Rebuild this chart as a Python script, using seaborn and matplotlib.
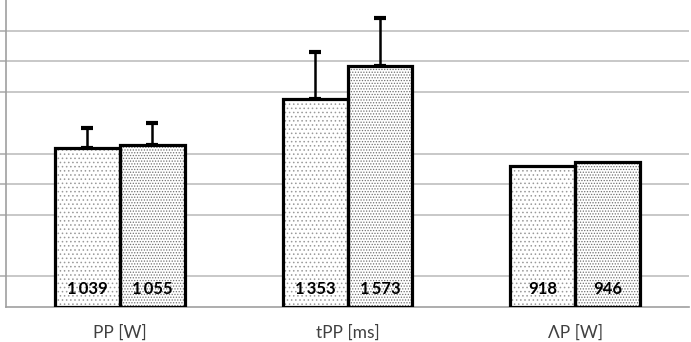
import numpy as np
import pandas as pd
import seaborn as sns
import matplotlib
matplotlib.use("Agg")
import matplotlib.pyplot as plt
from matplotlib.patches import Rectangle

# values
categories = ["PP [W]", "tPP [ms]", "\u039bP [W]"]
series = ["A", "B"]
values_a = [1039, 1353, 918]
values_b = [1055, 1573, 946]
err_a = [130, 305, 0]
err_b = [143, 312, 0]
yticks = [200, 600, 800, 1000, 1400, 1600, 1800]

df = pd.DataFrame({
    "cat": categories * 2,
    "series": [series[0]] * 3 + [series[1]] * 3,
    "value": values_a + values_b,
    "err": err_a + err_b,
})

sns.set_style("white")
plt.rcParams["font.family"] = ["Lato", "DejaVu Sans"]
plt.rcParams["hatch.linewidth"] = 0.6

fig = plt.figure(figsize=(6.91, 3.42), dpi=100)
ax = fig.add_axes([6 / 691, 35 / 342, 683 / 691, 307 / 342])

sns.barplot(data=df, x="cat", y="value", hue="series", order=categories,
            hue_order=series, palette=["white", "white"], width=0.57,
            gap=0, legend=False, ax=ax, zorder=2)

hatches = {series[0]: "....", series[1]: "......"}
hatch_cols = {series[0]: "#9a9a9a", series[1]: "#707070"}

# patches come ordered by hue then category
bars = [p for p in ax.patches if isinstance(p, Rectangle)][:6]
for i, p in enumerate(bars):
    s = series[i // 3]
    row = df.iloc[i]
    p.set_hatch(hatches[s])
    p.set_edgecolor(hatch_cols[s])
    p.set_linewidth(0)
    # black outline on top
    ax.add_patch(Rectangle(p.get_xy(), p.get_width(), p.get_height(),
                           fill=False, edgecolor="black", linewidth=2.3,
                           zorder=3))
    cx = p.get_x() + p.get_width() / 2
    if row["err"] > 0:
        ax.errorbar(cx, row["value"], yerr=[[0], [row["err"]]], fmt="none",
                    ecolor="black", elinewidth=1.8, capsize=4.5, capthick=3,
                    zorder=1)
    txt = f"{row['value']:,}".replace(",", "\u2009")
    ax.text(cx, 118, txt, ha="center", va="center", fontsize=12,
            fontweight="bold", color="black", zorder=4)

ax.set_xlim(-0.5, 2.5)
ax.set_ylim(0, 2000)
ax.set_yticks(yticks)
ax.set_yticklabels([])
ax.yaxis.grid(True, color="#c4c4c4", linewidth=1.3, zorder=0)
ax.set_axisbelow(True)
ax.set_xticks([-0.5, 0.5, 1.5, 2.5], minor=False)
ax.set_xticklabels([])
ax.set_xticks([0, 1, 2], minor=True)
ax.set_xticklabels(categories, minor=True, fontsize=12.5, color="#404040")
ax.tick_params(axis="x", which="minor", length=0, pad=13)
ax.tick_params(axis="x", which="major", length=4, color="#a0a0a0", width=1.2)
ax.tick_params(axis="y", length=5, color="#b0b0b0", width=1.2, left=True)
ax.set_xlabel("")
ax.set_ylabel("")
for side in ["top", "right"]:
    ax.spines[side].set_visible(False)
for side in ["left", "bottom"]:
    ax.spines[side].set_color("#a0a0a0")
    ax.spines[side].set_linewidth(1.2)

fig.savefig("out.png", dpi=100)
